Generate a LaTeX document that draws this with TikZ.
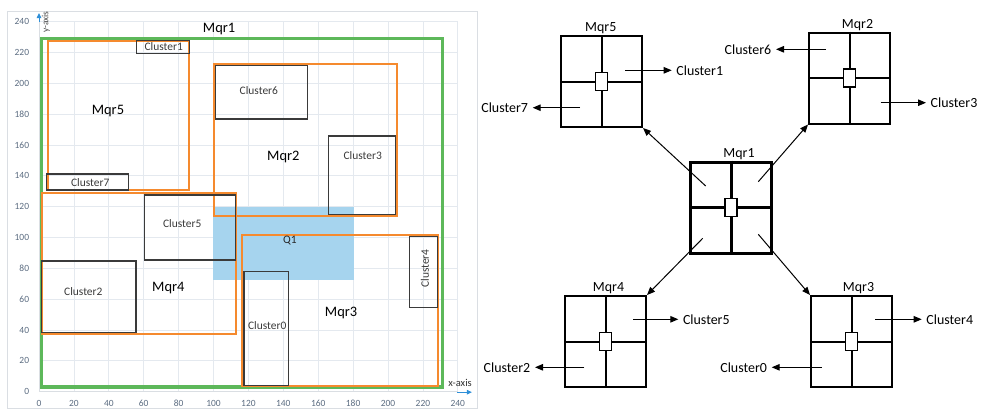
\documentclass[tikz,border=0pt]{standalone}
\usepackage{fontspec}
\setmainfont{Carlito}
\usetikzlibrary{arrows.meta,calc,positioning}
\definecolor{GridGray}{HTML}{E4E9EF}
\definecolor{FrameGray}{HTML}{DADEE3}
\definecolor{TickGray}{HTML}{5A6B80}
\definecolor{MqrGreen}{HTML}{5DB85A}
\definecolor{MqrOrange}{HTML}{F58A2E}
\definecolor{QueryBlue}{HTML}{A6D4EE}
\definecolor{AxisBlue}{HTML}{2E8FD8}
\definecolor{ClusterGray}{HTML}{3A3A3A}

\tikzset{
  mbr/.style={draw=MqrOrange,line width=2bp},
  clusterbox/.style={draw=ClusterGray,line width=1.3bp},
  maplabel/.style={font=\fontsize{14.5}{16}\selectfont,inner sep=0pt},
  cluslabel/.style={font=\fontsize{11.5}{13}\selectfont,text=ClusterGray,inner sep=0pt},
  ticklabel/.style={font=\fontsize{9.5}{11}\selectfont,text=TickGray,inner sep=1bp},
  quad/.style={draw,minimum width=81bp,minimum height=91bp,inner sep=0pt},
  hub/.style={draw,fill=white,line width=1.3bp,minimum width=12bp,minimum height=18bp,inner sep=0pt},
  treelabel/.style={font=\fontsize{14}{16}\selectfont,inner sep=1bp},
  ptr/.style={line width=1bp,-{Triangle[length=8bp,width=6.5bp]}},
}

\begin{document}
\begin{tikzpicture}[x=1bp,y=-1bp]
  \useasboundingbox (0,0) rectangle (983,409);
  \draw[FrameGray,line width=0.8bp] (7,11) rectangle (477.5,408.5);

  % the data space, 0..240 on both axes
  \begin{scope}[xshift=39bp,yshift=-391.7bp,x=1.745bp,y=1.5417bp]
    \foreach \v in {0,20,...,240} {
      \draw[GridGray,line width=0.8bp] (\v,0) -- (\v,240);
      \draw[GridGray,line width=0.8bp] (0,\v) -- (240,\v);
      \node[ticklabel,anchor=east] (yt\v) at (-5,\v) {\v};
      \node[ticklabel] (xt\v) at (\v,-7.3) {\v};
    }
    \draw[FrameGray,line width=1bp] (0,240) -- (0,0) -- (240,0);
    \draw[AxisBlue,line width=1bp,-{Triangle[length=5bp,width=4.5bp]}] (0,240) -- (0,245.6);
    \draw[AxisBlue,line width=1bp,-{Triangle[length=5bp,width=4.5bp]}] (239.5,-0.3) -- (248.1,-0.3);
    \node[ticklabel,text=black!70,rotate=90] (yname) at (3.9,239.8) {y-axis};
    \node[ticklabel,text=black!80,font=\fontsize{10.5}{12}\selectfont] (xname) at (241.3,5.8) {x-axis};

    % query window
    \fill[QueryBlue] (99.9,72.5) rectangle (180.7,119.6);

    % root and its four children
    \draw[MqrGreen,line width=3.5bp] (1.5,3.2) rectangle (231.1,229);
    \draw[mbr] (5,130.8) rectangle (86.1,227.5);
    \draw[mbr] (100.1,114.2) rectangle (205,212.4);
    \draw[mbr] (1.5,37.2) rectangle (112.9,128.7);
    \draw[mbr] (116.3,3.9) rectangle (228.8,101.6);

    % clusters
    \draw[clusterbox] (56,219.5) rectangle (86.1,227.7);
    \draw[clusterbox] (4.4,130.8) rectangle (51.4,141.2);
    \draw[clusterbox] (101,176.9) rectangle (153.8,211.5);
    \draw[clusterbox] (165.8,115) rectangle (204.4,165.9);
    \draw[clusterbox] (60.3,85.4) rectangle (112.5,127.6);
    \draw[clusterbox] (1.5,38.3) rectangle (55.6,84.8);
    \draw[clusterbox] (117.5,4) rectangle (143.1,77.8);
    \draw[clusterbox] (212.2,54.7) rectangle (228.3,100.5);

    \node[maplabel] (g-Mqr1) at (103.2,235.3) {Mqr1};
    \node[maplabel] (g-Mqr5) at (39.5,182) {Mqr5};
    \node[maplabel] (g-Mqr2) at (140,152.4) {Mqr2};
    \node[maplabel] (g-Mqr4) at (74.1,67) {Mqr4};
    \node[maplabel] (g-Mqr3) at (173.1,51.2) {Mqr3};
    \node[cluslabel,text=black!85] (g-Q1) at (143.8,98) {Q1};
    \node[cluslabel] (g-Cluster1) at (71.5,223.8) {Cluster1};
    \node[cluslabel] (g-Cluster7) at (29.4,135.9) {Cluster7};
    \node[cluslabel] (g-Cluster6) at (126,195.2) {Cluster6};
    \node[cluslabel] (g-Cluster3) at (185.5,153) {Cluster3};
    \node[cluslabel] (g-Cluster5) at (82.1,109.2) {Cluster5};
    \node[cluslabel] (g-Cluster2) at (25.4,64.9) {Cluster2};
    \node[cluslabel] (g-Cluster0) at (130.8,42.8) {Cluster0};
    \node[cluslabel,rotate=90] (g-Cluster4) at (221.2,80) {Cluster4};
  \end{scope}

  % the tree of quadrant boxes
  \foreach \name/\px/\py/\lw/\sh in {Mqr5/601.5/81.5/2/-0.7,Mqr2/849.5/78/2/8,
      Mqr1/731/207.5/3/8,Mqr4/605.5/341.5/2/3,Mqr3/851.5/341.5/2/7} {
    \node[quad,line width=\lw bp] (\name) at (\px,\py) {};
    \draw[line width=\lw bp] (\name.north) -- (\name.south) (\name.west) -- (\name.east);
    \node[hub] (\name-c) at (\name.center) {};
    \node[treelabel,above=0pt of \name,xshift=\sh bp] (\name-t) {\name};
  }

  \coordinate (p5) at ($(Mqr1)+(-25.3,-21.5)$);
  \coordinate (p2) at ($(Mqr1)+(27.3,-25.8)$);
  \coordinate (p4) at ($(Mqr1)+(-28.3,30.8)$);
  \coordinate (p3) at ($(Mqr1)+(27.3,26.8)$);
  \draw[ptr] (p5) -- (Mqr5.south east);
  \draw[ptr] (p2) -- (Mqr2.south west);
  \draw[ptr] (p4) -- (Mqr4.north east);
  \draw[ptr] (p3) -- (Mqr3.north west);

  % clusters hanging off the leaves
  \foreach \leaf/\dx/\dy/\tx/\cl/\anc in {Mqr5/23.5/-11.2/671.7/Cluster1/west,
      Mqr5/-21.5/26.2/532.7/Cluster7/east,Mqr2/-23.5/-28.7/776/Cluster6/east,
      Mqr2/31.2/24.7/926/Cluster3/west,Mqr4/27.8/-22.2/678.3/Cluster5/west,
      Mqr4/-21.2/25.8/535/Cluster2/east,Mqr3/23.5/-22.2/921.7/Cluster4/west,
      Mqr3/-29.8/25.8/771.7/Cluster0/east} {
    \path (\leaf) ++(\dx,\dy) coordinate (\cl-s);
    \node[treelabel,anchor=\anc,inner xsep=4.5bp] (t-\cl) at (\cl-s -| \tx,0) {\cl};
    \draw[ptr] (\cl-s) -- (t-\cl.\anc);
  }
\end{tikzpicture}
\end{document}
